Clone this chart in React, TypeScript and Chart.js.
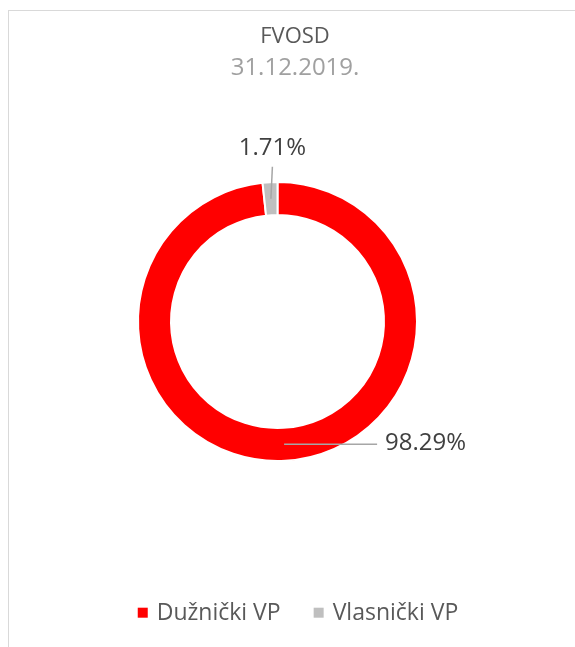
import React, { useEffect, useRef } from "react";
import { Chart, registerables } from "chart.js";

Chart.register(...registerables);

const titleText = "FVOSD";
const subtitleText = "31.12.2019.";
const categories = ["Dužnički VP", "Vlasnički VP"];
const shareValues = [98.29, 1.71];
const sliceColors = ["#FF0000", "#BFBFBF"];

const FONT = '"Open Sans"';

export default function App() {
  const ref = useRef<HTMLCanvasElement | null>(null);

  useEffect(() => {
    const canvas = ref.current!;

    const labelPlugin = {
      id: "customText",
      afterDatasetsDraw(chart: any) {
        const ctx = chart.ctx as CanvasRenderingContext2D;
        const meta = chart.getDatasetMeta(0);
        ctx.save();
        // leader lines + labels
        meta.data.forEach((arc: any, i: number) => {
          const p = arc.getCenterPoint();
          const txt = shareValues[i].toFixed(2) + "%";
          ctx.strokeStyle = "#A6A6A6";
          ctx.lineWidth = 1.5;
          ctx.fillStyle = "#404040";
          ctx.font = `24px ${FONT}`;
          ctx.beginPath();
          if (i === 0) {
            ctx.moveTo(p.x, p.y);
            ctx.lineTo(p.x + 93, p.y);
            ctx.stroke();
            ctx.textAlign = "left";
            ctx.textBaseline = "middle";
            ctx.fillText(txt, p.x + 101, p.y - 1);
          } else {
            ctx.moveTo(p.x, p.y);
            ctx.lineTo(p.x + 1.5, p.y - 32);
            ctx.stroke();
            ctx.textAlign = "center";
            ctx.textBaseline = "middle";
            ctx.fillText(txt, p.x + 1.5, p.y - 51);
          }
        });
        // title
        ctx.textAlign = "center";
        ctx.textBaseline = "alphabetic";
        ctx.fillStyle = "#595959";
        ctx.font = `22px ${FONT}`;
        ctx.fillText(titleText, 286, 32);
        ctx.fillStyle = "#A0A0A0";
        ctx.font = `24px ${FONT}`;
        ctx.fillText(subtitleText, 286, 64);
        // legend
        ctx.font = `23px ${FONT}`;
        const gap = 9;
        const itemGap = 33;
        const box = 10;
        const widths = categories.map((c) => ctx.measureText(c).width);
        const total =
          widths.reduce((a, b) => a + b, 0) +
          categories.length * (box + gap) +
          itemGap * (categories.length - 1);
        let x = 289 - total / 2;
        const base = 609;
        categories.forEach((c, i) => {
          ctx.fillStyle = sliceColors[i];
          ctx.fillRect(x, 596.7, box, box);
          x += box + gap;
          ctx.fillStyle = "#595959";
          ctx.textAlign = "left";
          ctx.fillText(c, x, base);
          x += widths[i] + itemGap;
        });
        ctx.restore();
      },
    };

    const chart = new Chart(canvas, {
      type: "doughnut",
      data: {
        labels: categories,
        datasets: [
          {
            data: shareValues,
            backgroundColor: sliceColors,
            borderColor: "#FFFFFF",
            borderWidth: 2,
            hoverOffset: 0,
          },
        ],
      },
      options: {
        animation: false,
        responsive: false,
        devicePixelRatio: 1,
        radius: 139.5,
        cutout: "76.34%",
        layout: { padding: { left: 100, right: 129, top: 100, bottom: 115 } },
        plugins: {
          legend: { display: false },
          title: { display: false },
          tooltip: { enabled: false },
        },
      } as any,
      plugins: [labelPlugin],
    });
    return () => chart.destroy();
  }, []);

  return (
    <div
      style={{
        position: "fixed",
        left: 8,
        top: 10,
        width: 567,
        height: 637,
        borderLeft: "1px solid #D9D9D9",
        borderTop: "1px solid #D9D9D9",
        background: "#FFFFFF",
      }}
    >
      <canvas ref={ref} width={566} height={636} style={{ display: "block", width: 566, height: 636 }} />
    </div>
  );
}
